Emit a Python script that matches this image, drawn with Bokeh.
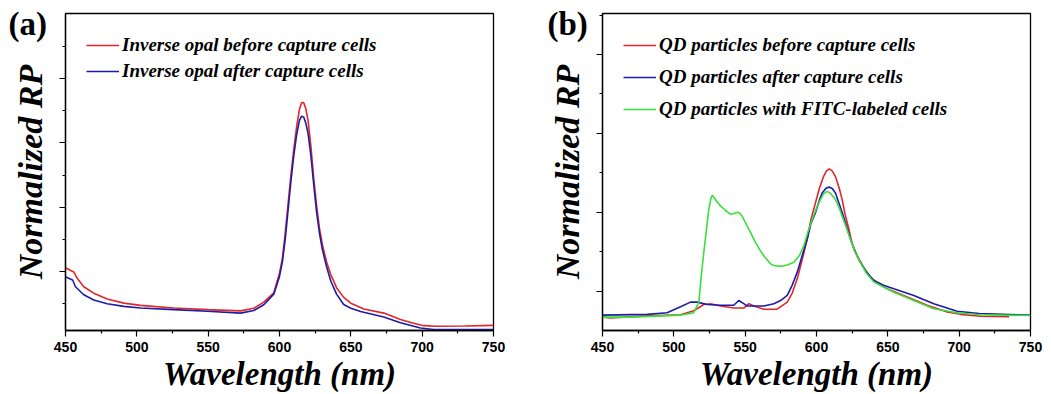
from bokeh.plotting import figure
from bokeh.models import (Range1d, FixedTicker, Legend, LegendItem, Label,
                          CustomJSTickFormatter, GridBox)
from bokeh.embed import file_html
from bokeh.resources import INLINE

# ---------------- data ----------------
# panel (a): inverse opal
wl_a_before = [450, 453, 455.8, 458.2, 462.8, 469.8, 479.2, 490.9, 502.6, 525.9, 549.3, 572.7,
               582, 589, 596, 600, 602, 604, 606, 608, 610, 612, 614, 615.5, 617, 618.5,
               620, 622, 624, 626, 628, 630, 633, 636, 640, 645, 650, 659.1, 673.1, 684.8,
               692, 701.1, 710, 730, 750]
rp_a_before = [2.12, 2.05, 1.99, 1.79, 1.53, 1.33, 1.15, 1.02, 0.95, 0.87, 0.82, 0.78,
               0.86, 1.05, 1.34, 1.95, 2.40, 3.20, 4.10, 5.00, 5.80, 6.50, 7.05, 7.25, 7.25, 7.05,
               6.70, 5.90, 4.90, 4.05, 3.35, 2.85, 2.30, 1.90, 1.50, 1.20, 1.02, 0.84, 0.71, 0.51,
               0.42, 0.32, 0.30, 0.31, 0.33]
wl_a_after = [450, 453, 455, 457, 462.8, 469.8, 479.2, 490.9, 502.6, 525.9, 549.3, 572.7,
              582, 589, 596, 600, 602, 604, 606, 608, 610, 612, 614, 615.5, 617, 618.5,
              620, 622, 624, 626, 628, 630, 633, 636, 640, 645, 650, 656.8, 673.1, 684.8,
              698.8, 708, 730, 750]
rp_a_after = [1.84, 1.78, 1.74, 1.53, 1.28, 1.12, 1.00, 0.92, 0.87, 0.82, 0.77, 0.71,
              0.79, 0.97, 1.30, 1.85, 2.30, 3.00, 3.90, 4.80, 5.60, 6.25, 6.70, 6.83, 6.80, 6.60,
              6.30, 5.60, 4.70, 3.85, 3.20, 2.70, 2.15, 1.70, 1.30, 0.98, 0.86, 0.76, 0.59, 0.41,
              0.25, 0.20, 0.20, 0.20]

# panel (b): QD particles
wl_b_before = [450, 455.8, 481.3, 504.7, 514, 521, 525.7, 532.7, 542, 549, 552.6, 556.1,
               563.1, 572.4, 579.5, 583, 586.5, 590, 593.5, 596, 599.3, 602, 605, 607, 609,
               611, 613.3, 616, 618, 620, 622.7, 625, 628.5, 633, 637.8, 643, 649.5, 663.6,
               677.6, 691.6, 701, 715, 735]
rp_b_before = [0.34, 0.32, 0.37, 0.40, 0.50, 0.66, 0.68, 0.62, 0.57, 0.57, 0.68, 0.62,
               0.54, 0.54, 0.72, 0.95, 1.31, 1.80, 2.32, 2.80, 3.24, 3.60, 3.91, 4.05, 4.10,
               4.05, 3.90, 3.60, 3.32, 2.95, 2.57, 2.20, 1.90, 1.60, 1.35, 1.20, 1.06, 0.85,
               0.64, 0.47, 0.41, 0.36, 0.35]
wl_b_after = [450, 481.3, 495.3, 504.7, 511.7, 516.4, 523.4, 532.7, 542, 545.5, 549, 551.4,
              563.1, 570.1, 574.8, 579.5, 583, 586.5, 590, 593.5, 596, 599.3, 602, 604, 606.5,
              608.7, 611, 613.3, 616, 618, 621, 623.8, 627, 630.8, 635, 640.2, 647, 654.2,
              668.2, 682.2, 698.6, 714, 750]
rp_b_after = [0.39, 0.41, 0.45, 0.60, 0.72, 0.72, 0.66, 0.64, 0.64, 0.76, 0.68, 0.62,
              0.62, 0.68, 0.76, 0.89, 1.15, 1.48, 1.90, 2.32, 2.70, 2.99, 3.30, 3.49, 3.60,
              3.64, 3.60, 3.49, 3.20, 2.99, 2.65, 2.32, 2.00, 1.73, 1.48, 1.27, 1.15, 1.06,
              0.89, 0.68, 0.49, 0.43, 0.39]
wl_b_fitc = [450, 469.6, 504.7, 514, 517.5, 519, 521, 523, 524.5, 526, 526.9, 528, 530, 532.7,
             536, 539.7, 542, 544.4, 546, 547.9, 550, 553.7, 557, 560.7, 564, 567.8, 570,
             573.6, 577, 580, 584.1, 588, 591.1, 594, 597, 600, 602.8, 605, 607.5, 610,
             613.3, 616, 618, 621, 623.8, 627, 630.8, 635, 640.2, 654.2, 668.2, 682.2,
             698.6, 714, 750]
rp_b_fitc = [0.34, 0.34, 0.39, 0.45, 0.72, 1.30, 1.98, 2.60, 3.07, 3.35, 3.43, 3.38, 3.28, 3.16,
             3.05, 2.95, 2.96, 3.00, 2.98, 2.90, 2.75, 2.49, 2.25, 2.02, 1.85, 1.69, 1.65,
             1.63, 1.64, 1.67, 1.73, 1.90, 2.15, 2.50, 2.82, 3.10, 3.32, 3.47, 3.53, 3.47,
             3.32, 3.10, 2.90, 2.60, 2.32, 2.00, 1.73, 1.45, 1.23, 0.97, 0.76, 0.55,
             0.45, 0.40, 0.38]

x_ticks = [450, 500, 550, 600, 650, 700, 750]
x_minor = [475, 525, 575, 625, 675, 725]

labels_a = ["Inverse opal before capture cells", "Inverse opal after capture cells"]
labels_b = ["QD particles before capture cells", "QD particles after capture cells",
            "QD particles with FITC-labeled cells"]
panel_letters = ["(a)", "(b)"]

RED, BLUE, GREEN = "#e0262b", "#1c1ca8", "#3adf3a"
SERIF = "Liberation Serif"
SANS = "Liberation Sans"
H = 394


def make_panel(width, left, right, top, bottom, yr, ymaj, ymin):
    p = figure(width=width, height=H, output_backend="svg", toolbar_location=None,
               x_range=Range1d(450, 750), y_range=Range1d(*yr),
               min_border_left=left, min_border_right=right,
               min_border_top=top, min_border_bottom=bottom)
    p.grid.visible = False
    p.outline_line_color = "black"
    p.outline_line_width = 1.3
    p.background_fill_color = "white"
    p.border_fill_color = "white"
    xa = p.xaxis[0]
    xa.ticker = FixedTicker(ticks=x_ticks, minor_ticks=x_minor)
    xa.axis_label = "Wavelength (nm)"
    ya = p.yaxis[0]
    ya.ticker = FixedTicker(ticks=ymaj, minor_ticks=ymin)
    ya.formatter = CustomJSTickFormatter(code="return ''")
    ya.major_label_text_font_size = "0px"
    ya.major_label_standoff = 0
    ya.axis_label = "Normalized RP"
    for ax in (xa, ya):
        ax.axis_line_width = 1.3
        ax.axis_line_color = "black"
        ax.major_tick_line_color = "black"
        ax.minor_tick_line_color = "black"
        ax.major_tick_line_width = 1.2
        ax.minor_tick_line_width = 1.2
        ax.major_tick_out = 6
        ax.major_tick_in = 0
        ax.minor_tick_out = 3
        ax.minor_tick_in = 0
        ax.axis_label_text_font = SERIF
        ax.axis_label_text_font_style = "bold italic"
        ax.axis_label_text_color = "black"
    xa.axis_label_text_font_size = "33px"
    ya.axis_label_text_font_size = "34px"
    xa.major_label_text_font = SANS
    xa.major_label_text_font_style = "bold"
    xa.major_label_text_font_size = "14px"
    xa.major_label_text_color = "black"
    xa.major_label_standoff = 5
    xa.axis_label_standoff = 1
    ya.axis_label_standoff = 11
    return p


def add_legend(p, renderers, labels, spacing):
    leg = Legend(items=[LegendItem(label=l, renderers=[r]) for l, r in zip(labels, renderers)],
                 location="top_left", margin=0, padding=21, spacing=spacing,
                 glyph_width=33, glyph_height=20, label_height=20, label_standoff=3,
                 border_line_alpha=0, background_fill_alpha=0,
                 label_text_font=SERIF, label_text_font_style="bold italic",
                 label_text_font_size="19px", label_text_color="black")
    p.add_layout(leg)


def letter_overlay(width, letter, x_px, top_px):
    # transparent overlay of the same size as a panel, holding its letter
    f = figure(width=width, height=H, output_backend="svg", toolbar_location=None,
               x_axis_type=None, y_axis_type=None, min_border=0,
               min_border_left=0, min_border_right=0, min_border_top=0, min_border_bottom=0,
               x_range=Range1d(0, width), y_range=Range1d(0, H))
    f.frame_align = False
    f.outline_line_color = None
    f.background_fill_alpha = 0
    f.border_fill_alpha = 0
    f.add_layout(Label(x=x_px, y=H - top_px, x_units="screen", y_units="screen", text=letter,
                       text_font=SERIF, text_font_style="bold", text_font_size="33px",
                       text_baseline="top", text_align="left", text_color="black"))
    return f


# panel (a)
pa = make_panel(525, 65, 32, 12, 63, (0.17, 10.02), [2, 4, 6, 8], [1, 3, 5, 7, 9])
ra1 = pa.line(wl_a_before, rp_a_before, line_color=RED, line_width=1.6)
ra2 = pa.line(wl_a_after, rp_a_after, line_color=BLUE, line_width=1.6)
add_legend(pa, [ra1, ra2], labels_a, 4)

# panel (b)
pb = make_panel(526, 77, 21, 13, 62, (0.0, 8.04), [1, 3, 5, 7], [2, 4, 6, 8])
rb1 = pb.line(wl_b_before, rp_b_before, line_color=RED, line_width=1.6)
rb2 = pb.line(wl_b_after, rp_b_after, line_color=BLUE, line_width=1.6)
rb3 = pb.line(wl_b_fitc, rp_b_fitc, line_color=GREEN, line_width=1.6)
add_legend(pb, [rb1, rb2, rb3], labels_b, 10)

la = letter_overlay(525, panel_letters[0], 8, 5)
lb = letter_overlay(526, panel_letters[1], 22, 5)

layout = GridBox(children=[(pa, 0, 0), (pb, 0, 1), (la, 0, 0), (lb, 0, 1)], spacing=0)
open("out.html", "w").write(file_html(layout, INLINE))
